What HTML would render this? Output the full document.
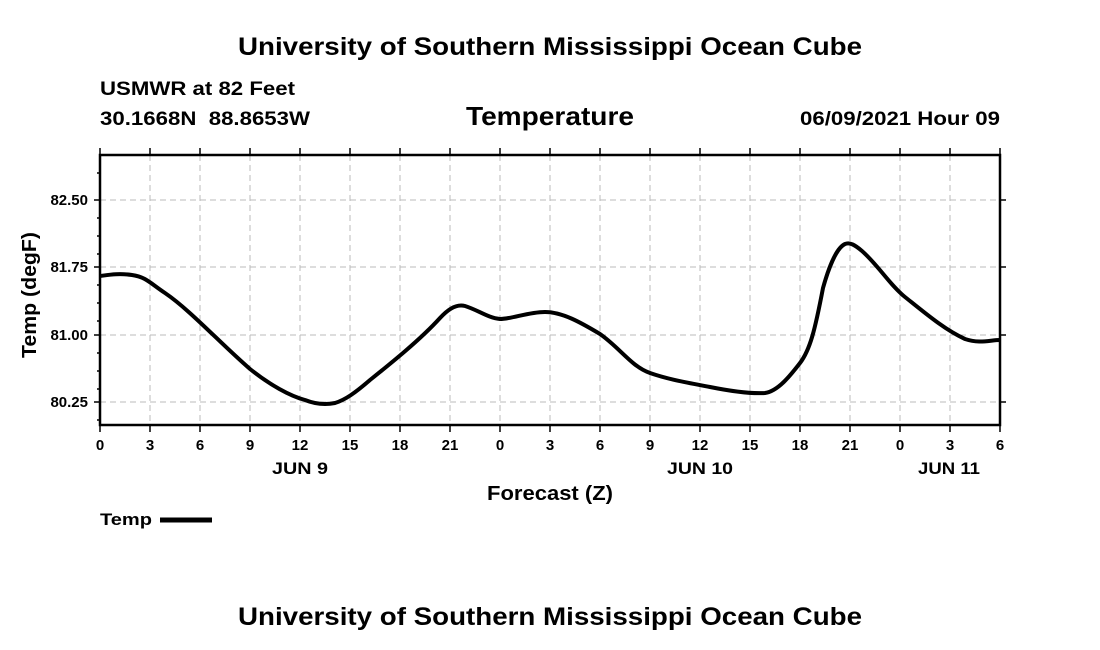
<!DOCTYPE html>
<html><head><meta charset="utf-8"><style>
body{margin:0;background:#fff;}
svg{display:block;font-family:"Liberation Sans",sans-serif;}
</style></head><body>
<svg width="1100" height="650" xmlns="http://www.w3.org/2000/svg">
<text x="238" y="55" font-size="25" font-weight="bold" textLength="624" lengthAdjust="spacingAndGlyphs">University of Southern Mississippi Ocean Cube</text>
<text x="100" y="95" font-size="19" font-weight="bold" textLength="195" lengthAdjust="spacingAndGlyphs">USMWR at 82 Feet</text>
<text x="100" y="125" font-size="19" font-weight="bold" textLength="210" lengthAdjust="spacingAndGlyphs" xml:space="preserve">30.1668N  88.8653W</text>
<text x="466" y="125" font-size="26" font-weight="bold" textLength="168" lengthAdjust="spacingAndGlyphs">Temperature</text>
<text x="800" y="125" font-size="19" font-weight="bold" textLength="200" lengthAdjust="spacingAndGlyphs">06/09/2021 Hour 09</text>
<g stroke="#bbb" stroke-width="1" stroke-dasharray="6,4">
<line x1="100" y1="200" x2="1000" y2="200"/><line x1="100" y1="267" x2="1000" y2="267"/>
<line x1="100" y1="335" x2="1000" y2="335"/><line x1="100" y1="402" x2="1000" y2="402"/>
<line x1="150" y1="155" x2="150" y2="425"/><line x1="200" y1="155" x2="200" y2="425"/><line x1="250" y1="155" x2="250" y2="425"/><line x1="300" y1="155" x2="300" y2="425"/><line x1="350" y1="155" x2="350" y2="425"/><line x1="400" y1="155" x2="400" y2="425"/><line x1="450" y1="155" x2="450" y2="425"/><line x1="500" y1="155" x2="500" y2="425"/><line x1="550" y1="155" x2="550" y2="425"/><line x1="600" y1="155" x2="600" y2="425"/><line x1="650" y1="155" x2="650" y2="425"/><line x1="700" y1="155" x2="700" y2="425"/><line x1="750" y1="155" x2="750" y2="425"/><line x1="800" y1="155" x2="800" y2="425"/><line x1="850" y1="155" x2="850" y2="425"/><line x1="900" y1="155" x2="900" y2="425"/><line x1="950" y1="155" x2="950" y2="425"/>
</g>
<g stroke="#000" stroke-width="1.5">
<path d="M100 148V155M150 148V155M200 148V155M250 148V155M300 148V155M350 148V155M400 148V155M450 148V155M500 148V155M550 148V155M600 148V155M650 148V155M700 148V155M750 148V155M800 148V155M850 148V155M900 148V155M950 148V155M1000 148V155"/>
<path d="M100 425V432M150 425V432M200 425V432M250 425V432M300 425V432M350 425V432M400 425V432M450 425V432M500 425V432M550 425V432M600 425V432M650 425V432M700 425V432M750 425V432M800 425V432M850 425V432M900 425V432M950 425V432M1000 425V432"/>
<path d="M94 200H100M94 267H100M94 335H100M94 402H100M1000 200H1006M1000 267H1006M1000 335H1006M1000 402H1006"/>
<path d="M97 173H100M97 218H100M97 236H100M97 254H100M97 285H100M97 303H100M97 321H100M97 353H100M97 371H100M97 389H100M97 420H100"/>
</g>
<rect x="100" y="155" width="900" height="270" fill="none" stroke="#000" stroke-width="2.5"/>
<g font-size="15" font-weight="bold" text-anchor="end">
<text x="88" y="205">82.50</text><text x="88" y="272">81.75</text><text x="88" y="340">81.00</text><text x="88" y="407">80.25</text>
</g>
<text transform="translate(36,295) rotate(-90)" x="-63" y="0" font-size="20" font-weight="bold" textLength="126" lengthAdjust="spacingAndGlyphs">Temp (degF)</text>
<g font-size="15" font-weight="bold" text-anchor="middle">
<text x="100" y="450">0</text><text x="150" y="450">3</text><text x="200" y="450">6</text><text x="250" y="450">9</text><text x="300" y="450">12</text><text x="350" y="450">15</text><text x="400" y="450">18</text><text x="450" y="450">21</text><text x="500" y="450">0</text><text x="550" y="450">3</text><text x="600" y="450">6</text><text x="650" y="450">9</text><text x="700" y="450">12</text><text x="750" y="450">15</text><text x="800" y="450">18</text><text x="850" y="450">21</text><text x="900" y="450">0</text><text x="950" y="450">3</text><text x="1000" y="450">6</text>
</g>
<g font-size="17" font-weight="bold">
<text x="272" y="474" textLength="56" lengthAdjust="spacingAndGlyphs">JUN 9</text><text x="667" y="474" textLength="66" lengthAdjust="spacingAndGlyphs">JUN 10</text><text x="918" y="474" textLength="62" lengthAdjust="spacingAndGlyphs">JUN 11</text>
</g>
<text x="487" y="500" font-size="20" font-weight="bold" textLength="126" lengthAdjust="spacingAndGlyphs">Forecast (Z)</text>
<text x="100" y="525" font-size="17" font-weight="bold" textLength="52" lengthAdjust="spacingAndGlyphs">Temp</text>
<line x1="160" y1="520" x2="212" y2="520" stroke="#000" stroke-width="5"/>
<path fill="none" stroke="#000" stroke-width="4" stroke-linejoin="round" d="M100 276 C108 275,118 273,132 275 S150 283,165 293 C190 310,220 343,250 369 C270 385,290 396,305 400 C315 404,325 405,335 403 C345 400,355 393,370 380 C390 364,420 340,440 318 C450 307,458 304,465 306 C478 310,488 318,500 319 C512 319,528 312,545 312 C562 312,580 322,600 334 C620 348,632 367,650 373 C670 380,690 383,710 387 C730 391,750 394,765 393 C778 391,790 376,800 363 C810 350,815 330,823 288 C828 270,836 248,845 244 C850 242,855 245,862 251 C878 265,890 285,905 297 C925 313,945 330,965 339 C980 344,990 340,1000 340"/>
<text x="238" y="625" font-size="25" font-weight="bold" textLength="624" lengthAdjust="spacingAndGlyphs">University of Southern Mississippi Ocean Cube</text>
</svg>
</body></html>
